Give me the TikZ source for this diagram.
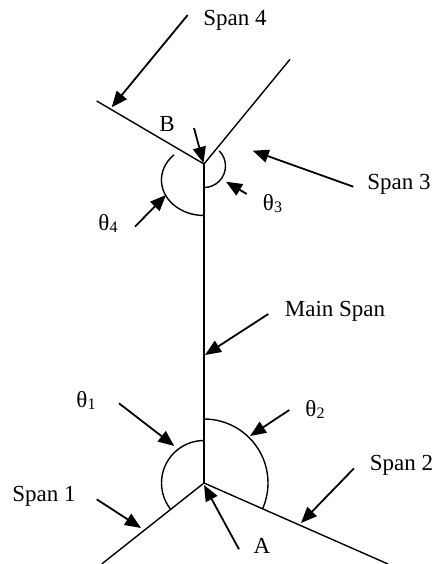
\documentclass[tikz,border=0pt]{standalone}
\usepackage{fontspec}
\setmainfont{Liberation Serif}
\usetikzlibrary{arrows.meta}
\newcommand\thlab[1]{θ\raisebox{-0.13em}{\fontsize{16}{16}\selectfont #1}}
\begin{document}
\begin{tikzpicture}[x=1pt,y=-1pt,
  member/.style={line width=1.4pt},
  mainmember/.style={line width=2pt},
  anglearc/.style={line width=1.4pt},
  pointer/.style={line width=1.8pt,-{Triangle[length=16pt,width=13pt]}},
  lbl/.style={font=\fontsize{23}{27}\selectfont, inner sep=0pt, anchor=base}]
\useasboundingbox (0,0) rectangle (435,564);
% joints and member ends
\coordinate (A) at (204,483);
\coordinate (B) at (204,164);
\coordinate (s4end) at (96.7,101);
\coordinate (s3end) at (290,59.3);
\coordinate (s1end) at (101.7,564);
\coordinate (s2end) at (388,564);
% members
\draw[mainmember] (B) -- (A);
\draw[member] (s4end) -- (B) -- (s3end);
\draw[member] (s1end) -- (A) -- (s2end);
% angle arcs
\draw[anglearc] ([shift={(0,-42.5)}]A) arc[start angle=270, end angle=142.6, radius=42.5];
\draw[anglearc] ([shift={(0,-64)}]A) arc[start angle=270, end angle=383.8, radius=64];
\draw[anglearc] ([shift={(-30.1,-17.1)}]204,172) arc[start angle=225, end angle=90, x radius=42.6, y radius=35.5];
\draw[anglearc] ([shift={(15.2,-15.2)}]204,166) arc[start angle=-45, end angle=90, radius=21.5];
% labels
\node[lbl] (lspan4) at (235,26) {Span 4};
\node[lbl] (lB) at (167,132) {B};
\node[lbl] (lspan3) at (399,189) {Span 3};
\node[lbl] (lth3) at (272.5,210) {\thlab{3}};
\node[lbl] (lth4) at (108,230) {\thlab{4}};
\node[lbl] (lmain) at (335,316) {Main Span};
\node[lbl] (lth1) at (86,407) {\thlab{1}};
\node[lbl] (lth2) at (315,416) {\thlab{2}};
\node[lbl] (lspan2) at (401.5,470) {Span 2};
\node[lbl] (lspan1) at (44,501) {Span 1};
\node[lbl] (lA) at (262,553) {A};
% pointer ends
\coordinate (p4a) at (187.7,15);   \coordinate (p4b) at (111.7,107.3);
\coordinate (pBa) at (194,128);    \coordinate (pBb) at (203.5,163);
\coordinate (p3a) at (353.3,186.7); \coordinate (p3b) at (252.7,150.7);
\coordinate (pt3a) at (246.7,194); \coordinate (pt3b) at (226,181.7);
\coordinate (pt4a) at (135,226.7); \coordinate (pt4b) at (166,195);
\coordinate (pma) at (268.3,314);  \coordinate (pmb) at (205,355);
\coordinate (pt1a) at (119,403.3); \coordinate (pt1b) at (174.3,446);
\coordinate (pt2a) at (289.3,410); \coordinate (pt2b) at (250,436);
\coordinate (p2a) at (354,468.3);  \coordinate (p2b) at (301,523);
\coordinate (p1a) at (96.7,499.3); \coordinate (p1b) at (141,528);
\coordinate (pAa) at (239,549.3);  \coordinate (pAb) at (204,485);
% pointers
\draw[pointer] (p4a) -- (p4b);
\draw[pointer] (pBa) -- (pBb);
\draw[pointer] (p3a) -- (p3b);
\draw[pointer] (pt3a) -- (pt3b);
\draw[pointer] (pt4a) -- (pt4b);
\draw[pointer] (pma) -- (pmb);
\draw[pointer] (pt1a) -- (pt1b);
\draw[pointer] (pt2a) -- (pt2b);
\draw[pointer] (p2a) -- (p2b);
\draw[pointer] (p1a) -- (p1b);
\draw[pointer] (pAa) -- (pAb);
\end{tikzpicture}
\end{document}
